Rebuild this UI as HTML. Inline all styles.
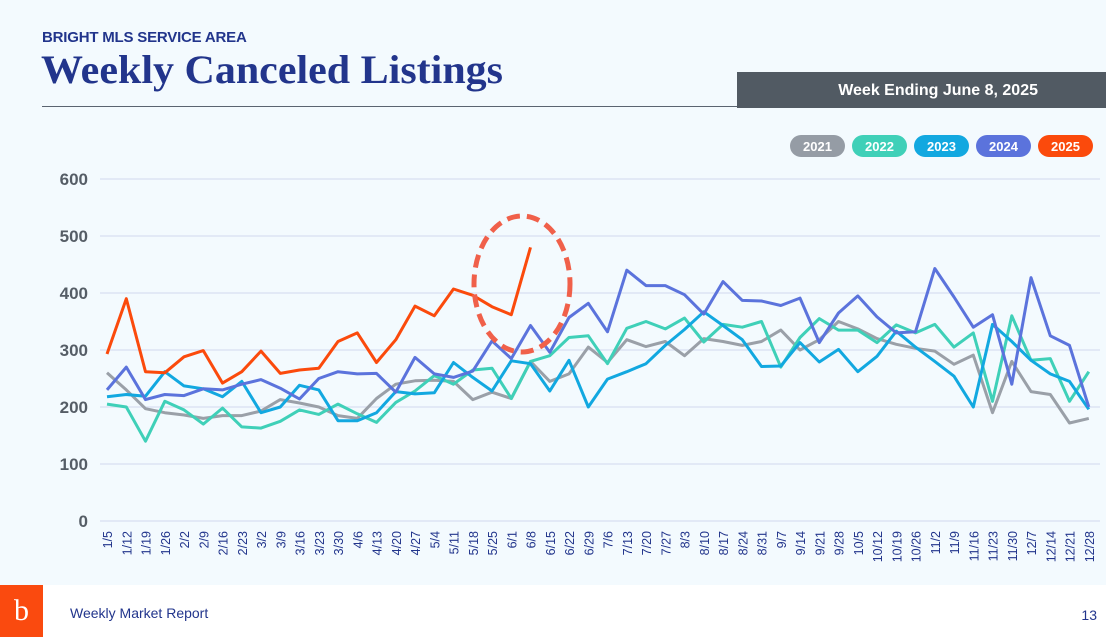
<!DOCTYPE html>
<html><head><meta charset="utf-8"><style>
body{margin:0;width:1106px;height:637px;background:#f3fafe;font-family:"Liberation Sans",sans-serif;overflow:hidden;position:relative}
.sub{position:absolute;left:42px;top:29px;font-size:15px;font-weight:bold;color:#22358c;letter-spacing:-0.2px}
.title{position:absolute;left:41px;top:46px;font-family:"Liberation Serif",serif;font-size:40px;font-weight:bold;color:#22358c;transform:scaleX(1.05);transform-origin:left top;white-space:nowrap}
.rule{position:absolute;left:42px;top:106px;width:696px;height:1px;background:#5a6470}
.wk{position:absolute;left:737px;top:72px;width:369px;height:36px;background:#515a63;color:#fff;font-weight:bold;font-size:16px;line-height:37px;text-align:right;box-sizing:border-box;padding-right:68px}
.foot{position:absolute;left:0;top:585px;width:1106px;height:52px;background:#fff}
.logo{position:absolute;left:0;top:585px;width:43px;height:52px;background:#fa4a0f;color:#fff;font-family:"Liberation Serif",serif;font-size:30px;text-align:center;line-height:52px}
.fl{position:absolute;left:70px;top:605px;font-size:14px;color:#22358c}
.pn{position:absolute;right:9px;top:607px;font-size:14px;color:#22358c}
</style></head><body>
<div class="sub">BRIGHT MLS SERVICE AREA</div>
<div class="title">Weekly Canceled Listings</div>
<div class="rule"></div>
<div class="wk">Week Ending June 8, 2025</div>
<svg id="c" width="1106" height="637" style="position:absolute;left:0;top:0"></svg>
<div class="foot"></div>
<div class="logo">b</div>
<div class="fl">Weekly Market Report</div>
<div class="pn">13</div>
<script>
var s=document.getElementById('c'),h='';
function Y(v){return 521-v*0.57}
function X(i){return 107+19.25*i}
for(var v=0;v<=600;v+=100){var y=Y(v);h+='<line x1="100" x2="1100" y1="'+y+'" y2="'+y+'" stroke="#dde3f4" stroke-width="1.5"/>';h+='<text x="88" y="'+(y+6)+'" text-anchor="end" font-size="17" font-weight="bold" fill="#555d66" font-family="Liberation Sans">'+v+'</text>';}
var labs=[];var d=new Date(2025,0,5);for(var i=0;i<52;i++){labs.push((d.getMonth()+1)+'/'+d.getDate());d.setDate(d.getDate()+7);}
labs.forEach(function(l,i){var x=X(i)+5;h+='<text transform="translate('+x+',531) rotate(-90)" text-anchor="end" font-size="12.5" fill="#22358c" font-family="Liberation Sans">'+l+'</text>';});
var D={
'#9aa0a8':[260,230,197,190,186,180,185,185,193,213,207,200,185,180,215,240,246,247,245,213,226,215,280,245,258,305,278,318,306,315,290,320,315,308,315,335,300,318,350,337,320,310,303,298,275,291,190,280,227,222,172,180],
'#3fd0b8':[205,200,140,210,195,170,198,165,163,175,195,187,205,188,173,208,228,255,240,265,268,215,280,290,322,325,276,338,350,337,356,314,345,340,350,270,322,355,335,335,313,344,330,345,305,330,210,360,282,285,210,262],
'#12a8e0':[218,222,219,262,237,232,218,245,190,200,238,230,176,176,190,227,223,225,278,252,228,281,276,228,282,200,249,262,276,308,336,367,343,318,271,272,313,279,301,262,289,333,305,280,254,200,345,315,282,258,245,196],
'#5b73dc':[230,270,213,222,220,232,230,240,248,233,214,250,262,258,259,226,287,258,252,263,316,285,343,296,357,382,332,440,413,413,397,363,420,387,386,378,391,313,365,395,358,330,332,443,393,340,362,240,427,325,308,200],
'#fb4a0c':[293,390,262,260,288,299,242,262,298,259,265,268,315,330,278,318,377,360,407,396,376,362,480]};
for(var c in D){h+='<polyline fill="none" stroke="'+c+'" stroke-width="3" stroke-linejoin="round" points="'+D[c].map(function(v,i){return X(i).toFixed(1)+','+Y(v).toFixed(1)}).join(' ')+'"/>';}
h+='<ellipse cx="522" cy="284" rx="48" ry="68" fill="none" stroke="#f0604a" stroke-width="5" stroke-dasharray="13,7"/>';
var L=[['2021','#959ca5',790],['2022','#3fd0b8',852],['2023','#12a8e0',914],['2024','#5b73dc',976],['2025','#fb4a0c',1038]];
L.forEach(function(l){h+='<rect x="'+l[2]+'" y="135" width="55" height="22" rx="11" fill="'+l[1]+'"/><text x="'+(l[2]+27.5)+'" y="151" text-anchor="middle" font-size="13" font-weight="bold" fill="#fff" font-family="Liberation Sans">'+l[0]+'</text>';});
s.innerHTML=h;
</script>
</body></html>
